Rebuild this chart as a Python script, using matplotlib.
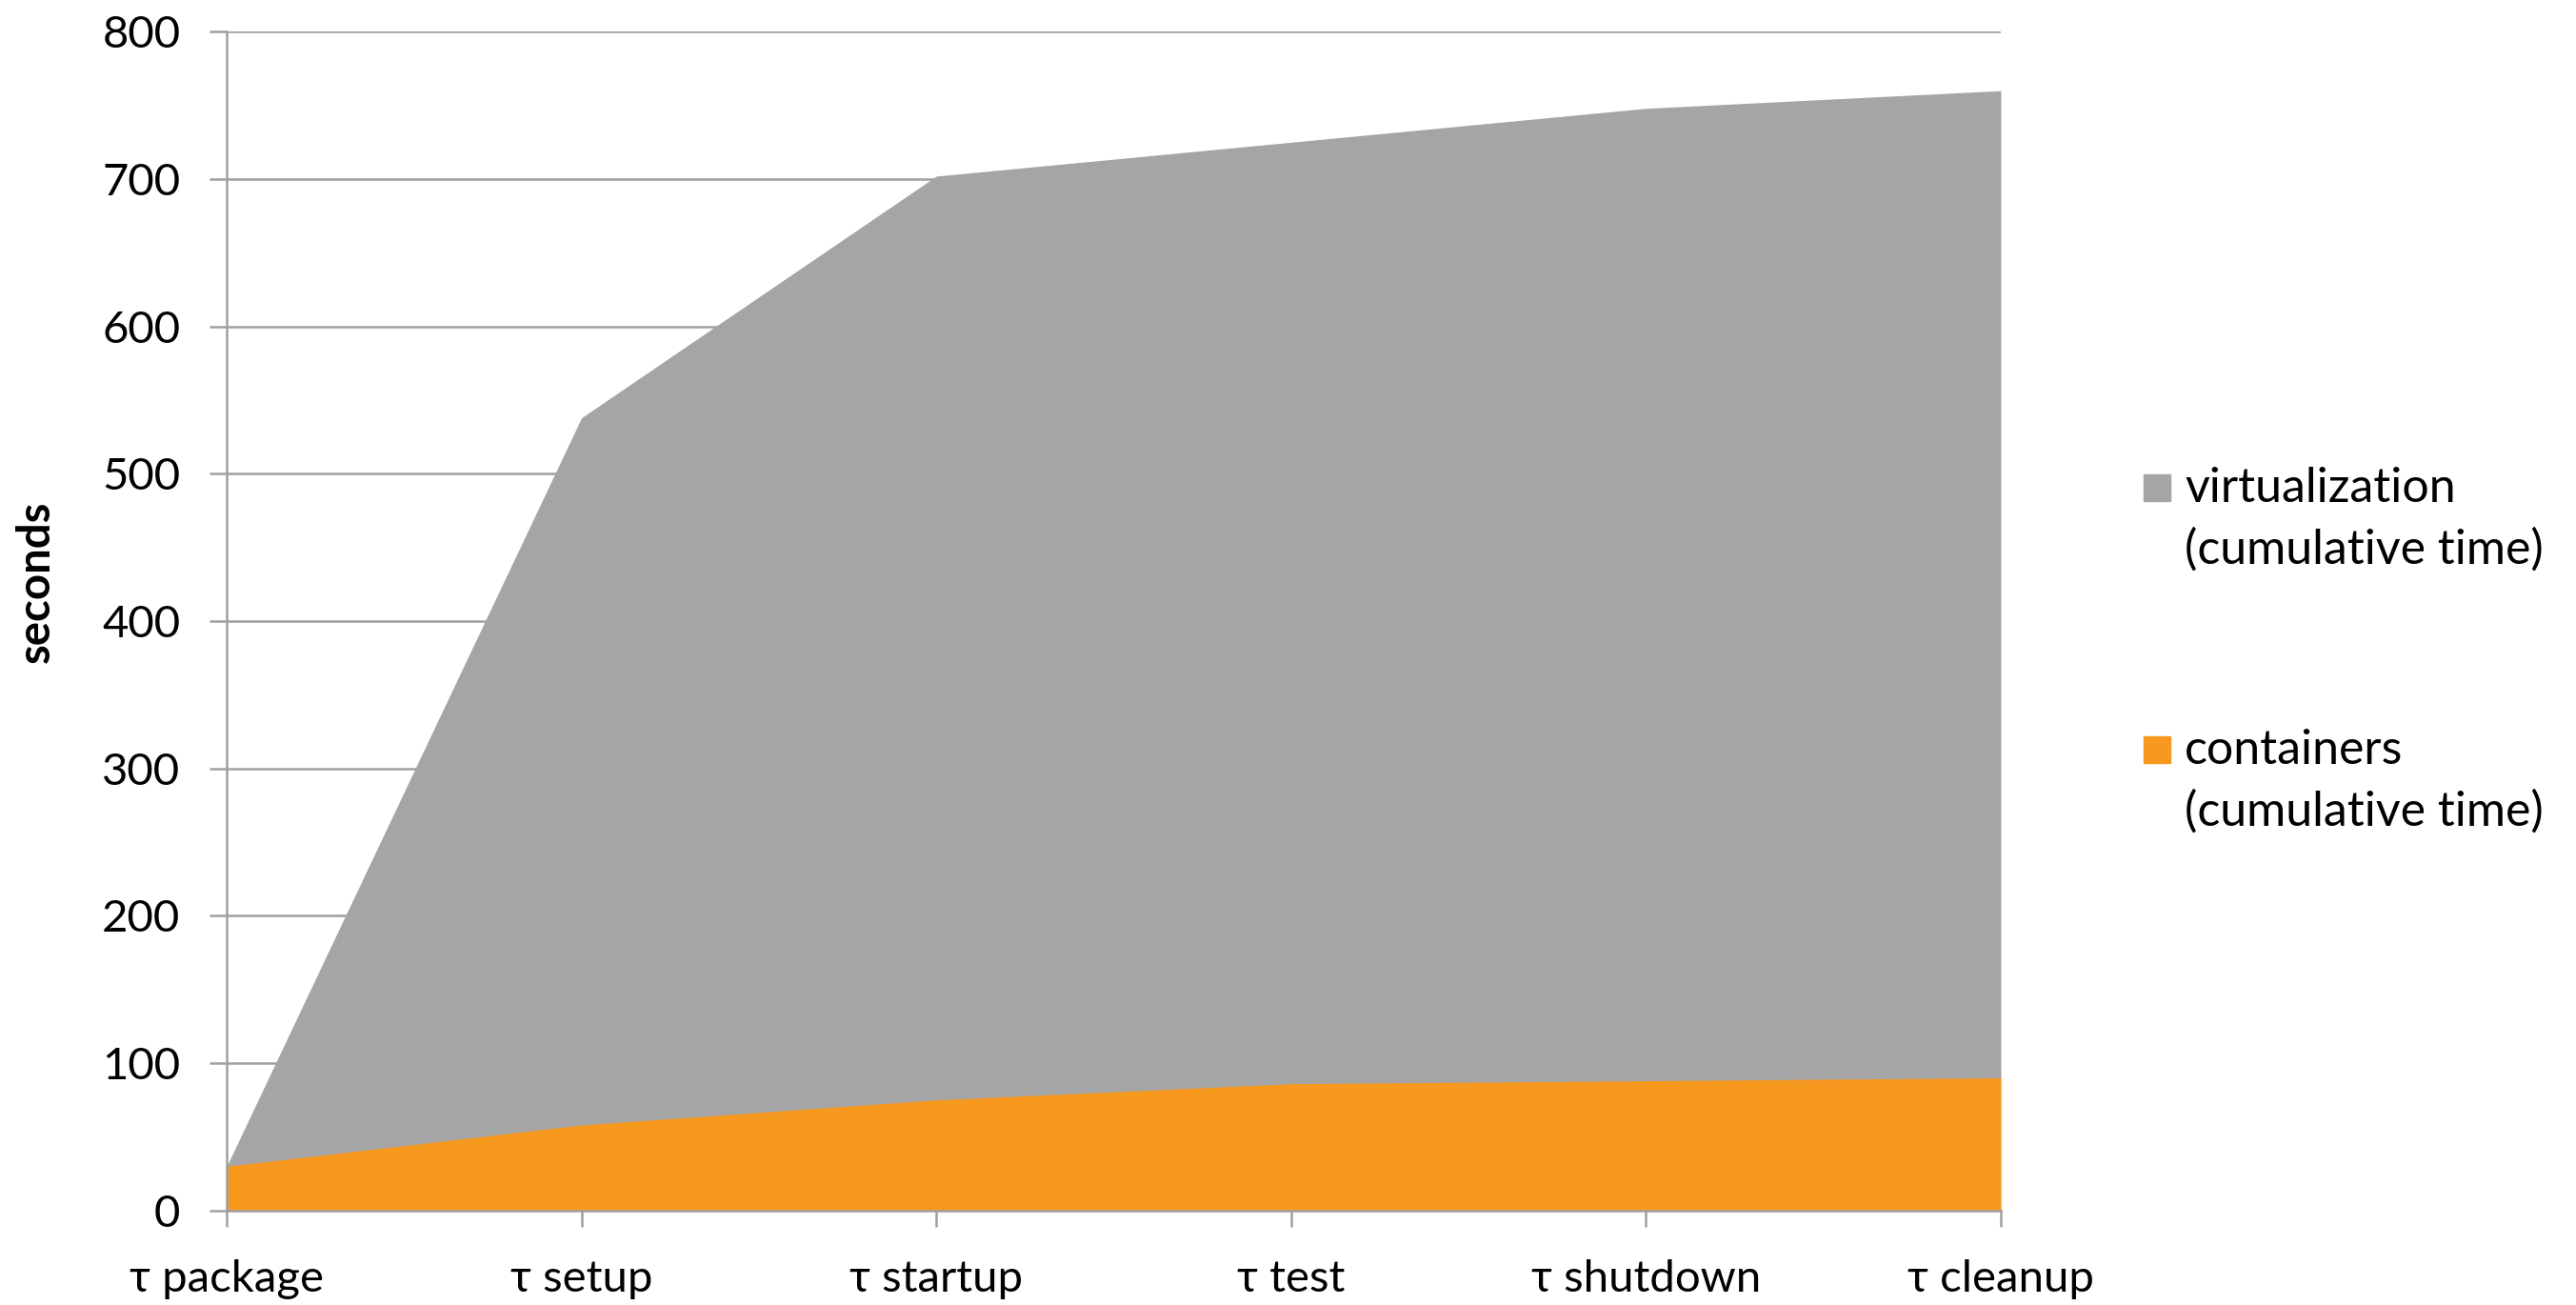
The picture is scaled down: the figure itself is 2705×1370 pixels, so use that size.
import matplotlib.pyplot as plt
from matplotlib.patches import Rectangle

plt.rcParams['font.family'] = ['Lato', 'DejaVu Sans']

phases = ["τ package", "τ setup", "τ startup", "τ test", "τ shutdown", "τ cleanup"]
virtualization = [30, 538, 702, 725, 748, 760]
containers = [30, 58, 75, 86, 88, 90]

series_labels = [["virtualization", "(cumulative time)"],
                 ["containers", "(cumulative time)"]]
series_colors = ["#A5A5A5", "#F7981F"]

grid_color = "#A0A0A0"
fsize = 34

fig = plt.figure(figsize=(27.05, 13.7), dpi=100)
ax = fig.add_axes([0.088, 0.0725, 0.6887, 0.9032])

x = list(range(len(phases)))
ax.fill_between(x, 0, virtualization, color=series_colors[0], lw=0, zorder=2)
ax.fill_between(x, 0, containers, color=series_colors[1], lw=0, zorder=3)

ax.set_xlim(0, len(phases) - 1)
ax.set_ylim(0, 800)
ax.set_yticks(range(0, 801, 100))
ax.set_xticks(x)
ax.set_xticklabels(phases)

ax.yaxis.grid(True, color=grid_color, lw=1.8)
ax.set_axisbelow(True)
for side in ["top", "right"]:
    ax.spines[side].set_visible(False)
for side in ["left", "bottom"]:
    ax.spines[side].set_color(grid_color)
    ax.spines[side].set_linewidth(1.8)
    ax.spines[side].set_zorder(5)

ax.tick_params(axis="y", length=13, width=1.8, color=grid_color, pad=22, labelsize=fsize)
ax.tick_params(axis="x", length=12, width=1.8, color=grid_color, pad=25, labelsize=fsize)

fig.text(38 / 2705, 1 - 611 / 1370, "seconds", rotation=90, ha="center", va="center",
         fontsize=fsize, fontweight="bold")

# legend drawn by hand: square next to first line of a two-line label
W, H = 2705, 1370
leg_tops = [498, 773]
for lines, col, top in zip(series_labels, series_colors, leg_tops):
    fig.patches.append(Rectangle((2251 / W, 1 - (top + 28) / H), 28 / W, 28 / H,
                                 transform=fig.transFigure, color=col))
    for k, line in enumerate(lines):
        fig.text(2294 / W, 1 - (top + 29 + k * 65) / H, line, ha="left", va="baseline",
                 fontsize=36)

fig.savefig("out.png", dpi=100)
